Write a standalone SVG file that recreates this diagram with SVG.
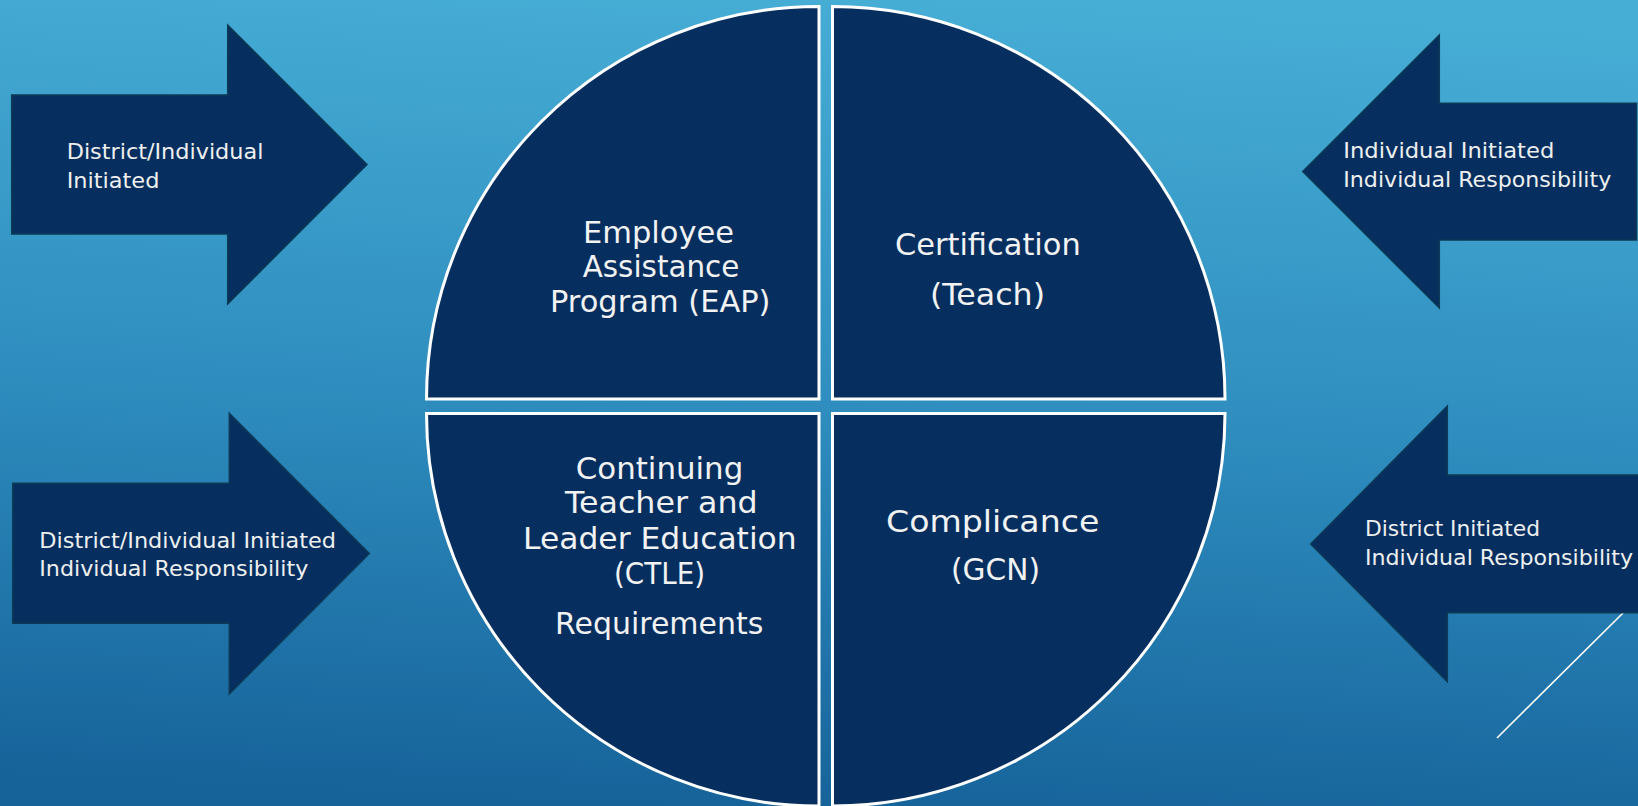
<svg xmlns="http://www.w3.org/2000/svg" width="1638" height="806" viewBox="0 0 1638 806">
  <defs>
    <linearGradient id="bg" x1="0.55" y1="0" x2="0.45" y2="1">
      <stop offset="0" stop-color="#46ADD5"/>
      <stop offset="0.5" stop-color="#2F8EBF"/>
      <stop offset="1" stop-color="#16639A"/>
    </linearGradient>
    <style>
      .arrow { fill: #062F5F; stroke: #0D3A55; stroke-width: 1.5; stroke-linejoin: miter; }
      .quad { fill: #062F5F; stroke: #FFFFFF; stroke-width: 3; stroke-linejoin: miter; }
      .atext { font-family: "DejaVu Sans", "Liberation Sans", sans-serif; font-size: 22px; fill: #EFEFEF; }
      .qtext { font-family: "DejaVu Sans", "Liberation Sans", sans-serif; font-size: 30px; fill: #F2F2F2; }
    </style>
  </defs>

  <rect x="0" y="0" width="1638" height="806" fill="url(#bg)"/>

  <g id="decor">
    <line x1="1624" y1="612" x2="1497" y2="738" stroke="#FFFFFF" stroke-width="1.6"/>
  </g>

  <g id="connectors"></g>

  <g id="arrow-top-left">
    <polygon class="arrow" points="11.7,95 227.7,95 227.7,25 367,164.5 227.7,304 227.7,234 11.7,234"/>
    <text class="atext" x="66.7" y="159.3" textLength="196.7" lengthAdjust="spacingAndGlyphs">District/Individual</text>
    <text class="atext" x="66.7" y="187.7" textLength="92.7" lengthAdjust="spacingAndGlyphs">Initiated</text>
  </g>

  <g id="arrow-bottom-left">
    <polygon class="arrow" points="12.7,483.3 229.3,483.3 229.3,413.3 369.3,553.5 229.3,694 229.3,623.3 12.7,623.3"/>
    <text class="atext" x="39.3" y="547.7" textLength="296.7" lengthAdjust="spacingAndGlyphs">District/Individual Initiated</text>
    <text class="atext" x="39.3" y="576" textLength="269" lengthAdjust="spacingAndGlyphs">Individual Responsibility</text>
  </g>

  <g id="arrow-top-right">
    <polygon class="arrow" points="1636.5,103.3 1439.3,103.3 1439.3,35 1302.7,171.5 1439.3,308 1439.3,240 1636.5,240"/>
    <text class="atext" x="1343.3" y="158.3" textLength="211" lengthAdjust="spacingAndGlyphs">Individual Initiated</text>
    <text class="atext" x="1343.3" y="186.7" textLength="268" lengthAdjust="spacingAndGlyphs">Individual Responsibility</text>
  </g>

  <g id="arrow-bottom-right">
    <polygon class="arrow" points="1660,475 1447.3,475 1447.3,406 1310.7,544 1447.3,681.7 1447.3,612.7 1660,612.7"/>
    <text class="atext" x="1365" y="535.7" textLength="175" lengthAdjust="spacingAndGlyphs">District Initiated</text>
    <text class="atext" x="1365" y="565" textLength="268" lengthAdjust="spacingAndGlyphs">Individual Responsibility</text>
  </g>

  <g id="quad-eap">
    <path class="quad" d="M819,399 L426.5,399 A392.5,392.5 0 0 1 819,6.5 Z"/>
    <text class="qtext" x="583" y="243.3" textLength="151" lengthAdjust="spacingAndGlyphs">Employee</text>
    <text class="qtext" x="582.7" y="277.3" textLength="156.6" lengthAdjust="spacingAndGlyphs">Assistance</text>
    <text class="qtext" x="550" y="311.7" textLength="220.5" lengthAdjust="spacingAndGlyphs">Program (EAP)</text>
  </g>

  <g id="quad-certification">
    <path class="quad" d="M832.5,399 L832.5,6.5 A392.5,392.5 0 0 1 1225,399 Z"/>
    <text class="qtext" x="895" y="255" textLength="185.7" lengthAdjust="spacingAndGlyphs">Certification</text>
    <text class="qtext" x="930" y="305" textLength="115" lengthAdjust="spacingAndGlyphs">(Teach)</text>
  </g>

  <g id="quad-ctle">
    <path class="quad" d="M819,413.5 L819,806 A392.5,392.5 0 0 1 426.5,413.5 Z"/>
    <text class="qtext" x="575.7" y="479.3" textLength="167.6" lengthAdjust="spacingAndGlyphs">Continuing</text>
    <text class="qtext" x="565" y="513.3" textLength="192.7" lengthAdjust="spacingAndGlyphs">Teacher and</text>
    <text class="qtext" x="523" y="549.3" textLength="273.7" lengthAdjust="spacingAndGlyphs">Leader Education</text>
    <text class="qtext" x="614" y="584" textLength="91" lengthAdjust="spacingAndGlyphs">(CTLE)</text>
    <text class="qtext" x="555" y="634" textLength="208.3" lengthAdjust="spacingAndGlyphs">Requirements</text>
  </g>

  <g id="quad-compliance">
    <path class="quad" d="M832.5,413.5 L1225,413.5 A392.5,392.5 0 0 1 832.5,806 Z"/>
    <text class="qtext" x="886" y="532.3" textLength="213.3" lengthAdjust="spacingAndGlyphs">Complicance</text>
    <text class="qtext" x="951" y="580" textLength="89" lengthAdjust="spacingAndGlyphs">(GCN)</text>
  </g>
</svg>
